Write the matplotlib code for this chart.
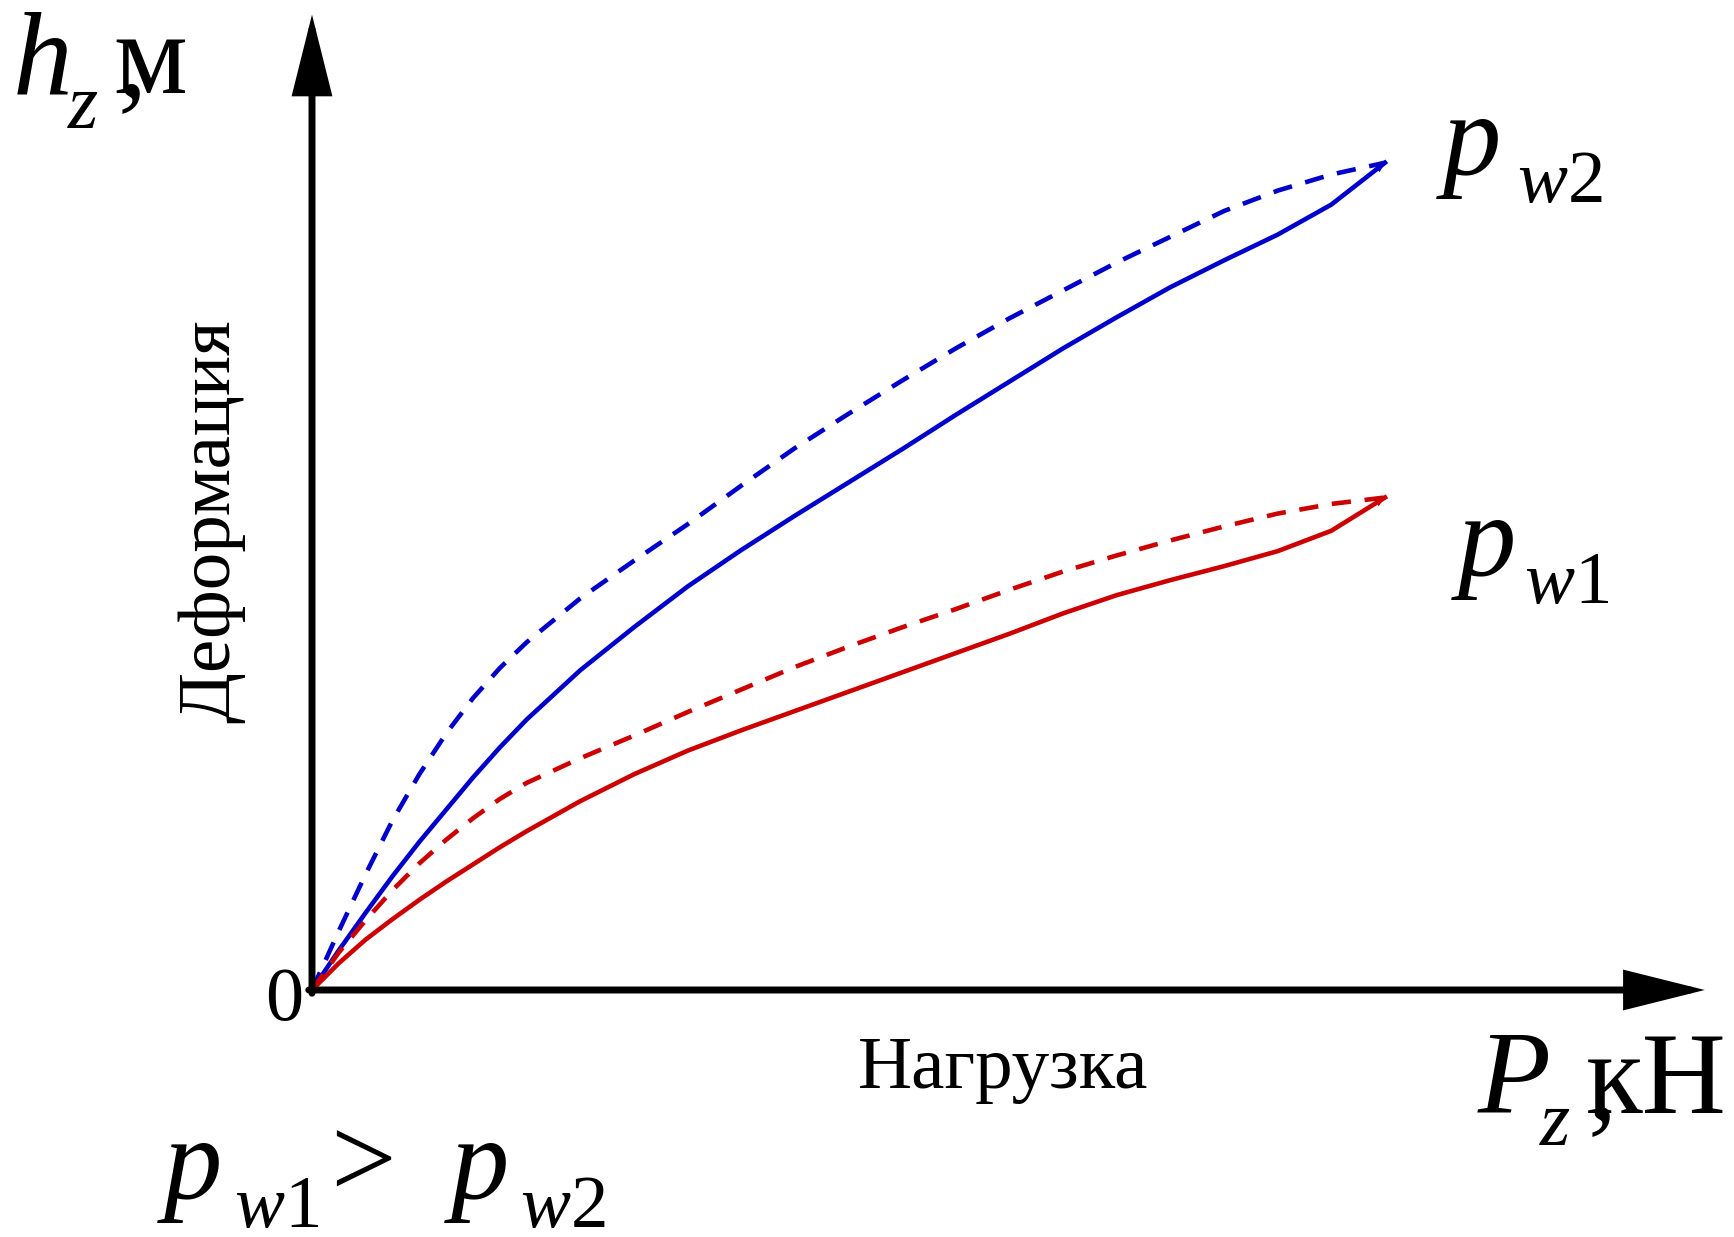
import numpy as np
import matplotlib
matplotlib.use("Agg")
import matplotlib.pyplot as plt

plt.rcParams["font.family"] = ["Liberation Serif", "DejaVu Serif"]
plt.rcParams["mathtext.fontset"] = "custom"
plt.rcParams["mathtext.rm"] = "Liberation Serif"
plt.rcParams["mathtext.it"] = "Liberation Serif:italic"

# load (x) / deformation (y), arbitrary units
load = [0, 0.25, 0.5, 0.75, 1.0, 1.25, 1.5, 1.75, 2.0, 2.5, 3.0, 3.5, 4.0, 4.5, 5.0,
        5.5, 6.0, 6.5, 7.0, 7.5, 8.0, 8.5, 9.0, 9.5, 10.0]

blue_solid = [0, 0.37, 0.72, 1.06, 1.38, 1.68, 1.98, 2.26, 2.52, 2.98, 3.38, 3.76, 4.10,
              4.42, 4.73, 5.04, 5.36, 5.67, 5.98, 6.27, 6.55, 6.80, 7.04, 7.32, 7.71]
blue_dash = [0, 0.55, 1.08, 1.58, 2.01, 2.39, 2.72, 3.00, 3.24, 3.65, 4.00, 4.34, 4.70,
             5.05, 5.37, 5.68, 5.98, 6.26, 6.52, 6.78, 7.02, 7.26, 7.45, 7.60, 7.71]
red_solid = [0, 0.25, 0.47, 0.66, 0.84, 1.01, 1.17, 1.33, 1.48, 1.76, 2.01, 2.23, 2.42,
             2.60, 2.78, 2.96, 3.14, 3.32, 3.51, 3.68, 3.82, 3.95, 4.09, 4.28, 4.59]
red_dash = [0, 0.35, 0.65, 0.93, 1.18, 1.40, 1.60, 1.78, 1.93, 2.16, 2.37, 2.59, 2.80,
            3.01, 3.20, 3.38, 3.55, 3.73, 3.90, 4.05, 4.19, 4.32, 4.44, 4.53, 4.59]

BLUE = "#0000CC"
RED = "#CC0000"

W, H = 1734, 1237
fig = plt.figure(figsize=(W / 100, H / 100), dpi=100)
ax = fig.add_axes([312 / W, 1 - 990 / H, 13 * 107.3 / W, 9.1 * 107.3 / H])
ax.set_xlim(0, 13)
ax.set_ylim(0, 9.1)
ax.axis("off")

lw = 3.3
dash = (0, (4.2, 3.0))
ax.plot(load, blue_dash, color=BLUE, lw=lw, linestyle=dash)
ax.plot(load, blue_solid, color=BLUE, lw=lw)
ax.plot(load, red_dash, color=RED, lw=lw, linestyle=dash)
ax.plot(load, red_solid, color=RED, lw=lw)

# small tips at the end of the solid curves
for ys, c in [(blue_solid, BLUE), (red_solid, RED)]:
    ax.annotate("", xy=(load[-1], ys[-1]), xytext=(load[-2], ys[-2]),
                arrowprops=dict(arrowstyle="-|>,head_length=0.6,head_width=0.25",
                                mutation_scale=12, color=c, lw=0, shrinkA=0, shrinkB=0))

# axes with arrows
arrow = dict(arrowstyle="-|>,head_length=4.6,head_width=1.15", mutation_scale=10,
             color="black", lw=5, shrinkA=0, shrinkB=0, joinstyle="miter")
ax.annotate("", xy=(12.98, 0), xytext=(-0.03, 0), arrowprops=arrow, annotation_clip=False)
ax.annotate("", xy=(0, 9.09), xytext=(0, -0.03), arrowprops=arrow, annotation_clip=False)


def put(x, y, s, size, style="normal", **kw):
    fig.text(x / W, 1 - y / H, s, fontsize=size, style=style, va="baseline", ha="left", **kw)


# y-axis symbol
put(13, 93, "h", 86, "italic")
put(68, 128, "z", 56, "italic")
put(113, 93, "м", 84)
put(118, 95, ",", 84)

# x-axis symbol
put(1478, 1113, "P", 86, "italic")
put(1540, 1145, "z", 56, "italic")
put(1586, 1113, "кН", 84)
put(1588, 1118, ",", 84)

# curve labels
put(1443, 174, "p", 84, "italic")
put(1517, 202, r"$w2$", 54)
put(1458, 575, "p", 84, "italic")
put(1524, 603, r"$w1$", 54)

# relation at bottom-left
put(164, 1198, "p", 84, "italic")
put(234, 1227, r"$w1$", 54)
put(330, 1198, ">", 84)
put(451, 1198, "p", 84, "italic")
put(520, 1227, r"$w2$", 54)

put(265, 1020, "0", 55)

fig.text(1003 / W, 1 - 1088 / H, "Нагрузка", fontsize=54, ha="center", va="baseline")
fig.text(229 / W, 1 - 521 / H, "Деформация", fontsize=54, ha="center", va="baseline",
         rotation=90, rotation_mode="anchor")

fig.savefig("out.png", dpi=100, facecolor="white")
